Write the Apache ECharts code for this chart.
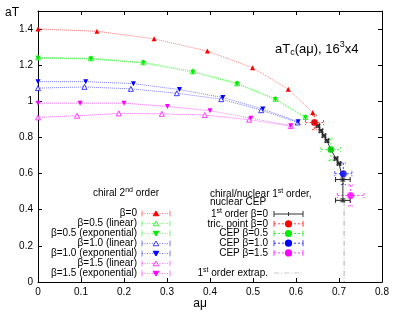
<!DOCTYPE html>
<html><head><meta charset="utf-8">
<script src="https://cdn.jsdelivr.net/npm/echarts@6/dist/echarts.min.js"></script>
<style>html,body{margin:0;padding:0;background:#fff}#c{width:399px;height:313px}</style>
</head><body><div id="c"></div>
<script>
// ---- data ----
const xTicks = [0, 0.1, 0.2, 0.3, 0.4, 0.5, 0.6, 0.7, 0.8];
const yTicks = [0, 0.2, 0.4, 0.6, 0.8, 1, 1.2, 1.4];

const muB0 = [0, 0.137, 0.27, 0.394, 0.499, 0.582, 0.639];
const tB0 = [1.400, 1.388, 1.346, 1.278, 1.186, 1.067, 0.938];

const muB05 = [0, 0.123, 0.245, 0.36, 0.463, 0.552, 0.622];
const tB05lin = [1.243, 1.238, 1.216, 1.167, 1.100, 1.014, 0.913];
const tB05exp = [1.239, 1.234, 1.212, 1.161, 1.096, 1.010, 0.909];

const muB10exp = [0, 0.111, 0.222, 0.329, 0.430, 0.523, 0.605];
const tB10exp = [1.109, 1.109, 1.098, 1.065, 1.021, 0.957, 0.887];
const muB10lin = [0, 0.108, 0.216, 0.323, 0.426, 0.519, 0.604];
const tB10lin = [1.073, 1.080, 1.069, 1.045, 1.012, 0.951, 0.883];

const muB15exp = [0, 0.098, 0.200, 0.301, 0.400, 0.495, 0.588];
const tB15exp = [0.990, 0.990, 0.990, 0.971, 0.948, 0.907, 0.865];
const muB15lin = [0, 0.091, 0.188, 0.288, 0.388, 0.491, 0.588];
const tB15lin = [0.911, 0.920, 0.933, 0.931, 0.924, 0.898, 0.863];

const mu1st = [0.643, 0.651, 0.658, 0.665, 0.672, 0.681, 0.693, 0.700, 0.709, 0.709];
const t1st = [0.883, 0.865, 0.837, 0.810, 0.782, 0.733, 0.683, 0.656, 0.567, 0.452];
const mu1stErr = [0.004, 0.004, 0.004, 0.004, 0.004, 0.004, 0.004, 0.004, 0.017, 0.017];
const t1stErr = [0.008, 0.008, 0.008, 0.008, 0.008, 0.008, 0.008, 0.008, 0.008, 0.008];

// CEP points: [mu, T, muErr, TErr]
const tricB0 = [0.643, 0.883, 0.021, 0.04];
const cepB05 = [0.681, 0.733, 0.023, 0.06];
const cepB10 = [0.710, 0.599, 0.020, 0.06];
const cepB15 = [0.727, 0.479, 0.031, 0.058];

const extrapMu = [0.712, 0.712];
const extrapT = [0.45, 0];

// ---- helpers ----
const zip = (a, b) => a.map((v, i) => [v, b[i]]);
const RED = '#ff0000', GREEN = '#00ee00', BLUE = '#0000ff', MAG = '#ff00ff';
const FONT = '"Liberation Sans", Arial, sans-serif';

function errRender(color, dashed) {
  return function (params, api) {
    const x = api.value(0), y = api.value(1), ex = api.value(2), ey = api.value(3);
    const l = api.coord([x - ex, y]), r = api.coord([x + ex, y]);
    const t = api.coord([x, y + ey]), b = api.coord([x, y - ey]);
    const st = { stroke: color, lineWidth: 1, lineDash: dashed ? [2, 2] : null, opacity: dashed ? 0.75 : 1 };
    const c = 2.5;
    const ln = (x1, y1, x2, y2) => ({ type: 'line', shape: { x1, y1, x2, y2 }, style: st });
    return { type: 'group', children: [
      ln(l[0], l[1], r[0], r[1]), ln(t[0], t[1], b[0], b[1]),
      ln(l[0], l[1] - c, l[0], l[1] + c), ln(r[0], r[1] - c, r[0], r[1] + c),
      ln(t[0] - c, t[1], t[0] + c, t[1]), ln(b[0] - c, b[1], b[0] + c, b[1])
    ] };
  };
}

function chiral(mu, t, color, filled, down) {
  return {
    type: 'line', data: zip(mu, t), symbol: 'triangle', symbolSize: 5,
    symbolRotate: down ? 180 : 0,
    lineStyle: { color: color, width: 1, type: 'dotted', opacity: 0.5 },
    itemStyle: { color: filled ? color : '#fff', borderColor: color, borderWidth: filled ? 0 : 1, opacity: filled ? 1 : 0.75 },
    z: 3, animation: false, silent: true
  };
}

function cep(p, color) {
  return [
    { type: 'custom', data: [p], renderItem: errRender(color, true), z: 4, animation: false, silent: true },
    { type: 'scatter', data: [[p[0], p[1]]], symbol: 'circle', symbolSize: 7,
      itemStyle: { color: color }, z: 6, animation: false, silent: true }
  ];
}

// ---- legend graphics ----
const graphics = [];
function txt(x, y, text, align, rich) {
  graphics.push({ type: 'text', x: x, y: y, style: {
    text: text, fontSize: 10, fontFamily: FONT, fill: '#000',
    align: align, verticalAlign: 'middle', rich: rich || undefined } });
}
const supRich = { n: { fontSize: 10, fontFamily: FONT, lineHeight: 12 },
  s: { fontSize: 7, fontFamily: FONT, verticalAlign: 'top', lineHeight: 12 } };
function sample(x1, x2, y, color, dash, op) {
  const st = { stroke: color, lineWidth: 1, lineDash: dash, opacity: op || 1 };
  graphics.push({ type: 'line', shape: { x1: x1, y1: y, x2: x2, y2: y }, style: st });
  graphics.push({ type: 'line', shape: { x1: x1, y1: y - 3, x2: x1, y2: y + 3 }, style: { stroke: color, lineWidth: 1, opacity: op || 1 } });
  graphics.push({ type: 'line', shape: { x1: x2, y1: y - 3, x2: x2, y2: y + 3 }, style: { stroke: color, lineWidth: 1, opacity: op || 1 } });
}
function tri(cx, cy, color, filled, down) {
  const s = 2.8;
  const pts = down ? [[cx - s, cy - s * 0.8], [cx + s, cy - s * 0.8], [cx, cy + s * 0.9]]
                   : [[cx - s, cy + s * 0.8], [cx + s, cy + s * 0.8], [cx, cy - s * 0.9]];
  graphics.push({ type: 'polygon', shape: { points: pts },
    style: { fill: filled ? color : '#fff', stroke: color, lineWidth: 1, opacity: filled ? 1 : 0.75 } });
}

// left legend
graphics.push({ type: 'text', x: 126, y: 193, style: { text: '{n|chiral 2}{s|nd}{n| order}', align: 'center', verticalAlign: 'middle', rich: supRich } });
const leftEntries = [
  ['β=0', RED, true, false], ['β=0.5 (linear)', GREEN, false, false], ['β=0.5 (exponential)', GREEN, true, true],
  ['β=1.0 (linear)', BLUE, false, false], ['β=1.0 (exponential)', BLUE, true, true],
  ['β=1.5 (linear)', MAG, false, false], ['β=1.5 (exponential)', MAG, true, true]
];
leftEntries.forEach((e, i) => {
  const y = 213.5 + i * 10;
  txt(137, y, e[0], 'right');
  sample(142, 170, y, e[1], [1, 1.5], 0.5);
  tri(156, y, e[1], e[2], e[3]);
});

// right legend
graphics.push({ type: 'text', x: 210, y: 194, style: { text: '{n|chiral/nuclear 1}{s|st}{n| order,}', align: 'left', verticalAlign: 'middle', rich: supRich } });
txt(210, 202.5, 'nuclear CEP', 'left');
graphics.push({ type: 'text', x: 268, y: 214, style: { text: '{n|1}{s|st}{n| order β=0}', align: 'right', verticalAlign: 'middle', rich: supRich } });
sample(274, 303, 214, '#333', null);
graphics.push({ type: 'line', shape: { x1: 288.5, y1: 212, x2: 288.5, y2: 216 }, style: { stroke: '#333', lineWidth: 1 } });
const rightEntries = [['tric. point β=0', RED], ['CEP β=0.5', GREEN], ['CEP β=1.0', BLUE], ['CEP β=1.5', MAG]];
rightEntries.forEach((e, i) => {
  const y = 223.8 + i * 9.7;
  txt(268, y, e[0], 'right');
  sample(274, 303, y, e[1], [2, 2], 0.75);
  graphics.push({ type: 'circle', shape: { cx: 288.5, cy: y, r: 3.6 }, style: { fill: e[1] } });
});
graphics.push({ type: 'text', x: 268, y: 273, style: { text: '{n|1}{s|st}{n| order extrap.}', align: 'right', verticalAlign: 'middle', rich: supRich } });
graphics.push({ type: 'line', shape: { x1: 274, y1: 273, x2: 303, y2: 273 }, style: { stroke: '#c8c8c8', lineWidth: 1, lineDash: [5, 2, 1, 2] } });

// plot title and axis names
graphics.push({ type: 'text', x: 275, y: 49, style: {
  text: '{m|aT}{b|c}{m|(aμ), 16}{t|3}{m|x4}', align: 'left', verticalAlign: 'middle',
  rich: { m: { fontSize: 13, fontFamily: FONT, lineHeight: 17 },
          b: { fontSize: 9, fontFamily: FONT, verticalAlign: 'bottom', lineHeight: 17 },
          t: { fontSize: 9, fontFamily: FONT, verticalAlign: 'top', lineHeight: 17 } } } });
graphics.push({ type: 'text', x: 5, y: 13, style: { text: 'aT', fontSize: 12, fontFamily: FONT, fill: '#000', verticalAlign: 'middle' } });
graphics.push({ type: 'text', x: 200, y: 304, style: { text: 'aμ', fontSize: 12, fontFamily: FONT, fill: '#000', align: 'center', verticalAlign: 'middle' } });

const axisCommon = {
  axisLine: { show: true, onZero: false, lineStyle: { color: '#000', width: 1 } },
  axisTick: { show: true, inside: true, length: 4, lineStyle: { color: '#000' } },
  splitLine: { show: false }
};

const option = {
  animation: false,
  backgroundColor: '#fff',
  grid: { left: 38, right: 17, top: 11, bottom: 31, containLabel: false },
  xAxis: [
    Object.assign({ type: 'value', min: 0, max: 0.8, interval: 0.1, position: 'bottom',
      axisLabel: { color: '#000', fontSize: 10, fontFamily: FONT, margin: 5,
        formatter: v => { const t = xTicks.find(k => Math.abs(k - v) < 1e-6); return t === undefined ? '' : String(t); } } }, axisCommon),
    Object.assign({ type: 'value', min: 0, max: 0.8, interval: 0.1, position: 'top', axisLabel: { show: false } }, axisCommon)
  ],
  yAxis: [
    Object.assign({ type: 'value', min: 0, max: 1.5, interval: 0.2, position: 'left',
      axisLabel: { color: '#000', fontSize: 10, fontFamily: FONT, margin: 5, showMaxLabel: false,
        formatter: v => { const t = yTicks.find(k => Math.abs(k - v) < 1e-6); return t === undefined ? '' : String(t); } } }, axisCommon),
    Object.assign({ type: 'value', min: 0, max: 1.5, interval: 0.2, position: 'right', axisLabel: { show: false } }, axisCommon)
  ],
  graphic: graphics,
  series: [
    { type: 'line', data: zip(extrapMu, extrapT), symbol: 'none',
      lineStyle: { color: '#c8c8c8', width: 1.5, type: [5, 2, 1, 2] }, z: 2, animation: false, silent: true },
    chiral(muB0, tB0, RED, true, false),
    chiral(muB05, tB05lin, GREEN, false, false),
    chiral(muB05, tB05exp, GREEN, true, true),
    chiral(muB10lin, tB10lin, BLUE, false, false),
    chiral(muB10exp, tB10exp, BLUE, true, true),
    chiral(muB15lin, tB15lin, MAG, false, false),
    chiral(muB15exp, tB15exp, MAG, true, true),
    { type: 'line', data: zip(mu1st, t1st), symbol: 'none',
      lineStyle: { color: '#333', width: 1 }, z: 4, animation: false, silent: true },
    { type: 'custom', data: mu1st.map((m, i) => [m, t1st[i], mu1stErr[i], t1stErr[i]]),
      renderItem: errRender('#222', false), z: 5, animation: false, silent: true },
    ...cep(tricB0, RED), ...cep(cepB05, GREEN), ...cep(cepB10, BLUE), ...cep(cepB15, MAG)
  ]
};
const chart = echarts.init(document.getElementById('c'), null, { renderer: 'canvas' });
chart.setOption(option);
</script></body></html>
